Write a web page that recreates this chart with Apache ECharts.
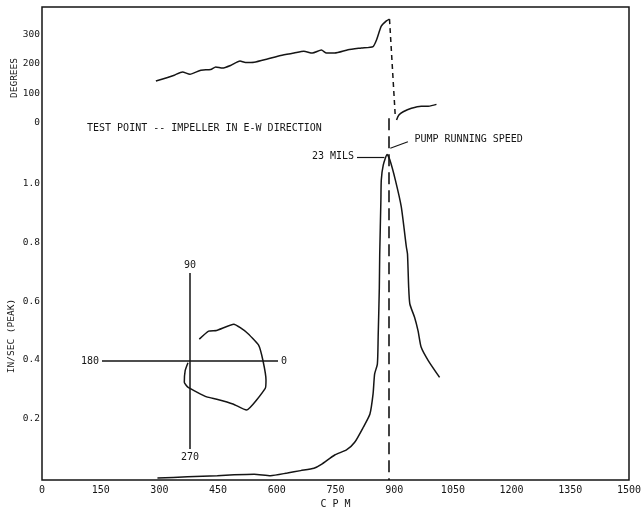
<!DOCTYPE html>
<html>
<head>
<meta charset="utf-8">
<script src="https://cdn.jsdelivr.net/npm/echarts@6/dist/echarts.min.js"></script>
<style>
  html, body { margin: 0; padding: 0; background: #fff; }
  #chart { width: 642px; height: 508px; }
</style>
</head>
<body>
<div id="chart"></div>
<script>
// Bode plot of a pump bearing housing: phase (top) and velocity amplitude (bottom)
// versus shaft speed, with a polar (Nyquist) sketch of the same run.
const FONT = "'DejaVu Sans Mono', 'Liberation Mono', monospace";
const INK = '#151515';

// Axis ticks
const cpmTicks = [0, 150, 300, 450, 600, 750, 900, 1050, 1200, 1350, 1500];
const ampTicks = [0.2, 0.4, 0.6, 0.8, 1.0];
const phaseTicks = [0, 100, 200, 300];
const polarTicks = [0, 90, 180, 270];

// Amplitude, in/sec peak
const ampCpm = [295, 372, 448, 491, 542, 584, 627, 661, 695, 714, 748, 778, 799, 821, 838,
  846, 850, 857, 859, 862, 863, 866, 867, 872, 882, 889, 903, 918, 931, 934, 937, 940,
  952, 961, 969, 987, 1016];
const ampInSec = [0.0, 0.004, 0.008, 0.011, 0.013, 0.008, 0.017, 0.025, 0.033, 0.046, 0.078,
  0.095, 0.121, 0.172, 0.217, 0.285, 0.353, 0.386, 0.477, 0.646, 0.759, 0.942, 1.010,
  1.061, 1.097, 1.078, 1.010, 0.920, 0.784, 0.759, 0.646, 0.590, 0.545, 0.499, 0.443,
  0.398, 0.341];

// Phase, degrees: below and above the 360 -> 0 wrap
const phaseCpmLow = [291, 321, 338, 359, 378, 406, 431, 444, 461, 482, 506, 520, 542, 576,
  610, 644, 669, 691, 714, 727, 748, 782, 816, 846, 855, 867, 880, 888];
const phaseDegLow = [142, 154, 162, 173, 165, 179, 181, 190, 186, 195, 210, 205, 206, 217,
  229, 237, 243, 237, 247, 237, 237, 248, 254, 259, 282, 328, 346, 352];
const phaseCpmHigh = [906, 912, 923, 944, 969, 987, 1008];
const phaseDegHigh = [10, 27, 38, 50, 57, 57, 63];

// Polar sketch: radius (relative) and angle (degrees)
const polarRadius = [0.27, 0.40, 0.46, 0.65, 0.72, 0.80, 0.83, 0.89, 0.91, 0.85, 0.69,
  0.53, 0.45, 0.30, 0.25, 0.12, 0.03];
const polarAngle = [67, 58, 49, 40, 27, 13, 0, 346, 340, 319, 315, 305, 295, 266, 255, 243, 220];

const pumpSpeedCpm = 887;
const peakLabel = '23 MILS';
const speedLabel = 'PUMP RUNNING SPEED';

const zip = (a, b) => a.map((v, i) => [v, b[i]]);

const textBase = { fontFamily: FONT, fontSize: 10, color: INK };
const tickText = { fontFamily: FONT, fontSize: 9.5, color: INK };
const curveStyle = { color: INK, width: 1.5 };

const chart = echarts.init(document.getElementById('chart'), null, { renderer: 'canvas' });

chart.setOption({
  animation: false,
  backgroundColor: '#ffffff',
  title: {
    text: 'TEST POINT -- IMPELLER IN E-W DIRECTION',
    left: 87, top: 123, padding: 0,
    textStyle: Object.assign({ fontWeight: 'normal' }, textBase)
  },
  grid: [
    { left: 42, right: 13, top: 7, bottom: 28, show: true, borderColor: INK, borderWidth: 1.5,
      backgroundColor: 'transparent', outerBoundsMode: 'none', containLabel: false },
    { left: 42, right: 13, top: 7, height: 116, show: false,
      outerBoundsMode: 'none', containLabel: false }
  ],
  xAxis: [
    { gridIndex: 0, type: 'value', min: 0, max: 1500, interval: 150,
      axisLine: { show: false }, axisTick: { show: false }, splitLine: { show: false },
      axisLabel: Object.assign({ margin: 5, customValues: cpmTicks,
        formatter: v => String(v) }, textBase),
      name: 'C P M', nameLocation: 'middle', nameGap: 14,
      nameTextStyle: textBase },
    { gridIndex: 1, type: 'value', min: 0, max: 1500, show: false }
  ],
  yAxis: [
    { gridIndex: 0, type: 'value', min: -0.0068, max: 1.597,
      axisLine: { show: false }, axisTick: { show: false }, splitLine: { show: false },
      axisLabel: Object.assign({ margin: 2, customValues: ampTicks,
        formatter: v => v.toFixed(1) }, tickText) },
    { gridIndex: 1, type: 'value', min: 0, max: 393,
      axisLine: { show: false }, axisTick: { show: false }, splitLine: { show: false },
      axisLabel: Object.assign({ margin: 2, customValues: phaseTicks,
        formatter: v => String(v) }, tickText) }
  ],
  polar: { center: [190, 361], radius: 88 },
  angleAxis: {
    type: 'value', min: 0, max: 360, interval: 90, startAngle: 0, clockwise: false,
    axisLine: { show: false }, axisTick: { show: false },
    splitLine: { show: true, lineStyle: { color: INK, width: 1.5 } },
    axisLabel: Object.assign({ margin: 3,
      formatter: v => (polarTicks.indexOf(v) >= 0 ? String(v) : '') }, textBase)
  },
  radiusAxis: {
    type: 'value', min: 0, max: 1,
    axisLine: { show: false }, axisTick: { show: false }, axisLabel: { show: false },
    splitLine: { show: false }
  },
  graphic: [
    { type: 'text', x: 15, y: 78, rotation: Math.PI / 2,
      style: { text: 'DEGREES', align: 'center', verticalAlign: 'middle',
        font: '9.5px ' + FONT, fill: INK } },
    { type: 'text', x: 12, y: 336, rotation: Math.PI / 2,
      style: { text: 'IN/SEC (PEAK)', align: 'center', verticalAlign: 'middle',
        font: '9.5px ' + FONT, fill: INK } }
  ],
  series: [
    {
      name: 'amplitude', type: 'line', xAxisIndex: 0, yAxisIndex: 0,
      data: zip(ampCpm, ampInSec), showSymbol: false, smooth: 0.2, clip: false,
      lineStyle: curveStyle,
      markLine: {
        symbol: 'none', silent: true, animation: false,
        label: Object.assign({ show: true }, textBase),
        data: [
          [ { coord: [pumpSpeedCpm, 1.22], lineStyle: { type: [12, 6], width: 1.6, color: INK },
              label: { show: false } },
            { coord: [pumpSpeedCpm, -0.0068] } ],
          [ { coord: [805, 1.089], lineStyle: { type: 'solid', width: 1.2, color: INK },
              label: { show: true, position: 'start', distance: 3, formatter: peakLabel } },
            { coord: [875, 1.089] } ],
          [ { coord: [890, 1.118], lineStyle: { type: 'solid', width: 1.2, color: INK },
              label: { show: true, position: 'end', distance: 7, formatter: speedLabel } },
            { coord: [935, 1.140] } ]
        ]
      }
    },
    {
      name: 'phase-low', type: 'line', xAxisIndex: 1, yAxisIndex: 1,
      data: zip(phaseCpmLow, phaseDegLow), showSymbol: false, smooth: 0.2, clip: false,
      lineStyle: curveStyle,
      markLine: {
        symbol: 'none', silent: true, animation: false, label: { show: false },
        lineStyle: { type: [5, 4], width: 1.5, color: INK },
        data: [ [ { coord: [888, 352] }, { coord: [903, 17] } ] ]
      }
    },
    {
      name: 'phase-high', type: 'line', xAxisIndex: 1, yAxisIndex: 1,
      data: zip(phaseCpmHigh, phaseDegHigh), showSymbol: false, smooth: 0.3, clip: false,
      lineStyle: curveStyle
    },
    {
      name: 'polar', type: 'line', coordinateSystem: 'polar',
      data: zip(polarRadius, polarAngle), showSymbol: false, smooth: 0.15,
      lineStyle: curveStyle
    }
  ]
});
</script>
</body>
</html>
